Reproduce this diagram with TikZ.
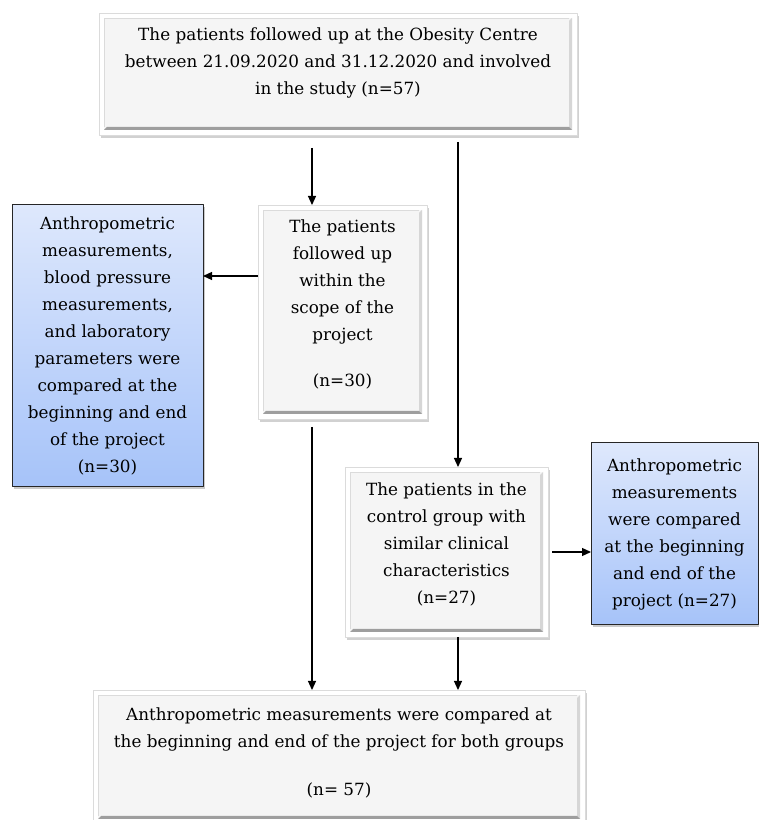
\documentclass[tikz,border=0pt]{standalone}
\usepackage{fontspec}
\setmainfont{DejaVu Serif}
\usetikzlibrary{arrows.meta,shadows}
\definecolor{bluTop}{HTML}{DEE8FC}
\definecolor{bluBot}{HTML}{A6C3F9}
\begin{document}
\begin{tikzpicture}[x=1pt, y=1pt, font=\fontsize{16.8}{27}\selectfont, line join=round, >={Triangle[length=9pt,width=8pt]},
  panel/.style={fill=white, draw=black!14, line width=.6pt, inner sep=0pt, outer sep=0pt, align=center,
    drop shadow={shadow xshift=1.5pt, shadow yshift=-3pt, opacity=.3, fill=black!60},
    path picture={
      \fill[black!4] ([shift={(5pt,5pt)}]path picture bounding box.south west) rectangle ([shift={(-5pt,-5pt)}]path picture bounding box.north east);
      \draw[black!14, line width=1pt] ([shift={(5.5pt,8pt)}]path picture bounding box.south west) -- ([shift={(5.5pt,-5.5pt)}]path picture bounding box.north west) -- ([shift={(-8pt,-5.5pt)}]path picture bounding box.north east);
      \fill[black!16] ([shift={(-5pt,5pt)}]path picture bounding box.south east) -- ([shift={(-5pt,-5pt)}]path picture bounding box.north east) -- ([shift={(-8pt,-8pt)}]path picture bounding box.north east) -- ([shift={(-8pt,8pt)}]path picture bounding box.south east) -- cycle;
      \fill[black!38] ([shift={(5pt,5pt)}]path picture bounding box.south west) -- ([shift={(-5pt,5pt)}]path picture bounding box.south east) -- ([shift={(-8pt,8pt)}]path picture bounding box.south east) -- ([shift={(8pt,8pt)}]path picture bounding box.south west) -- cycle;
    }},
  blubox/.style={draw=black!85, line width=1pt, top color=bluTop, bottom color=bluBot, inner sep=0pt, outer sep=0pt, align=center,
    drop shadow={shadow xshift=1.5pt, shadow yshift=-2pt, opacity=.35, fill=black!60}},
  arr/.style={->, line width=1.2pt}]
\useasboundingbox (0,0) rectangle (759,820);
\coordinate (colL) at (312,0);
\coordinate (colR) at (458,0);
\coordinate (rowA) at (0,544);
\node[panel, minimum width=478, minimum height=122, text depth=25pt] (top) at (338,746)
  {The patients followed up at the Obesity Centre\\between 21.09.2020 and 31.12.2020 and involved\\in the study (n=57)};
\node[panel, minimum width=169, minimum height=214, text depth=17pt] (mid) at (342.5,508)
  {The patients\\followed up\\within the\\scope of the\\project\\[19pt](n=30)};
\node[blubox, minimum width=191, minimum height=282] (bluL) at (107.5,474)
  {Anthropometric\\measurements,\\blood pressure\\measurements,\\and laboratory\\parameters were\\compared at the\\beginning and end\\of the project\\(n=30)};
\node[panel, minimum width=203, minimum height=170, text depth=18pt] (ctrl) at (446.5,268)
  {The patients in the\\control group with\\similar clinical\\characteristics\\(n=27)};
\node[blubox, minimum width=167, minimum height=182] (bluR) at (674.5,286)
  {Anthropometric\\measurements\\were compared\\at the beginning\\and end of the\\project (n=27)};
\node[panel, minimum width=492, minimum height=134, text depth=11pt] (bot) at (339,63)
  {Anthropometric measurements were compared at\\the beginning and end of the project for both groups\\[21pt](n= 57)};
\draw[arr, shorten <=13pt] (top.south -| colL) -- (mid.north -| colL);
\draw[arr, shorten <=7pt] (top.south -| colR) -- (ctrl.north -| colR);
\draw[arr] (mid.west |- rowA) -- (bluL.east |- rowA);
\draw[arr, shorten <=8pt] (mid.south -| colL) -- (bot.north -| colL);
\draw[arr, shorten <=4pt] (ctrl.east) -- (bluR.west |- ctrl.east);
\draw[arr] (ctrl.south -| colR) -- (bot.north -| colR);
\end{tikzpicture}
\end{document}
